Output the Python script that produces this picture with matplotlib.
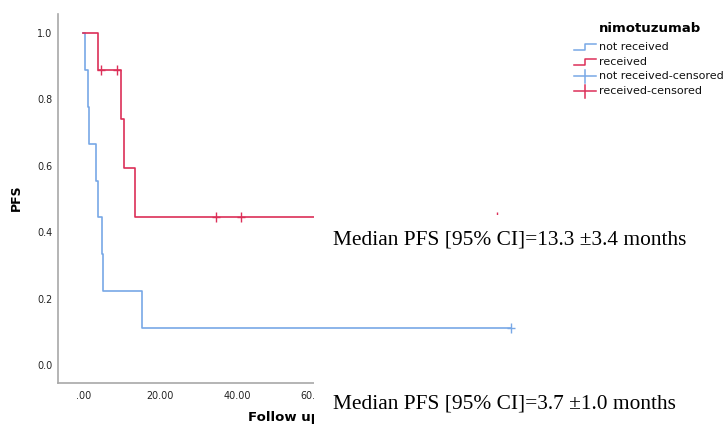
import numpy as np
import matplotlib
matplotlib.use("Agg")
from matplotlib import pyplot
from matplotlib.lines import Line2D
from matplotlib.patches import Rectangle

# Kaplan-Meier input: follow up times (months) and event flag (1 = progression, 0 = censored)
not_received_time = [0.3, 1.1, 1.4, 3.2, 3.7, 4.9, 5.1, 15.2, 111.1]
not_received_event = [1, 1, 1, 1, 1, 1, 1, 1, 0]
received_time = [3.7, 4.5, 8.6, 9.7, 10.6, 13.3, 34.5, 41.0, 107.5]
received_event = [1, 0, 0, 1, 1, 1, 0, 0, 0]

legend_labels = ["not received", "received", "not received-censored", "received-censored"]
x_ticks = [0, 20, 40, 60]
x_tick_labels = [".00", "20.00", "40.00", "60.00"]
y_ticks = [0.0, 0.2, 0.4, 0.6, 0.8, 1.0]
median_texts = ["Median PFS [95% CI]=13.3 \u00b13.4 months",
                "Median PFS [95% CI]=3.7 \u00b11.0 months"]

blue = "#78a8e6"
red = "#dc2f58"


def km_curve(times, events):
    times = np.array(times, dtype=float)
    events = np.array(events)
    order = np.argsort(times, kind="stable")
    times, events = times[order], events[order]
    xs, ys = [0.0], [1.0]
    surv = 1.0
    cens_x, cens_y = [], []
    at_risk = len(times)
    for t, e in zip(times, events):
        if e:
            surv = surv * (at_risk - 1) / at_risk
            xs.append(t)
            ys.append(surv)
        else:
            cens_x.append(t)
            cens_y.append(surv)
        at_risk -= 1
    xs.append(max(times))
    ys.append(surv)
    return xs, ys, cens_x, cens_y


W, H = 727, 425
fig = pyplot.figure(figsize=(W / 100, H / 100), dpi=100)

# axes box in pixels: left 58, bottom spine at 383, top at 14
x_min, x_max = -6.6, 124.0
ax = fig.add_axes([58 / W, (H - 383) / H, (83.3 + x_max * 3.85 - 58) / W, (383 - 14) / H])

for times, events, color in [(not_received_time, not_received_event, blue),
                             (received_time, received_event, red)]:
    xs, ys, cx, cy = km_curve(times, events)
    ax.step(xs, ys, where="post", color=color, lw=1.2)
    ax.plot(cx, cy, linestyle="none", marker="|", markersize=7, mew=1.0, color=color)
    ax.plot(cx, cy, linestyle="none", marker="_", markersize=6, mew=1.0, color=color)

ax.set_xlim(x_min, x_max)
ax.set_ylim(-0.054, 1.057)
ax.set_xticks(x_ticks)
ax.set_xticklabels(x_tick_labels)
ax.set_yticks(y_ticks)
ax.set_yticklabels([f"{v:.1f}" for v in y_ticks])
ax.tick_params(length=0, labelsize=6.9, pad=6, colors="#222222")
ax.tick_params(axis="y", pad=4)
for side in ["top", "right"]:
    ax.spines[side].set_visible(False)
for side in ["left", "bottom"]:
    ax.spines[side].set_color("#a8a8a8")
    ax.spines[side].set_linewidth(1.2)

fig.text(16 / W, 1 - 198 / H, "PFS", rotation=90, fontsize=9, fontweight="bold",
         ha="center", va="center")
fig.text(248 / W, 1 - 418 / H, "Follow up time (months)", fontsize=9.5, fontweight="bold",
         ha="left", va="center")

# legend drawn beside the plot
fig.text(599 / W, 1 - 28 / H, "nimotuzumab", fontsize=9.5, fontweight="bold",
         ha="left", va="center")
rows_y = [47, 62, 76, 91]
colors = [blue, red, blue, red]
for i, (lab, yy, c) in enumerate(zip(legend_labels, rows_y, colors)):
    if i < 2:
        fig.add_artist(Line2D(np.array([574, 585, 585, 596]) / W,
                              1 - np.array([yy + 3, yy + 3, yy - 3, yy - 3]) / H,
                              color=c, lw=1.1))
    else:
        fig.add_artist(Line2D(np.array([574, 596]) / W, [1 - yy / H] * 2, color=c, lw=1.1))
        fig.add_artist(Line2D([585 / W] * 2, 1 - np.array([yy - 6.5, yy + 6.5]) / H,
                              color=c, lw=1.1))
    fig.text(599 / W, 1 - yy / H, lab, fontsize=8, ha="left", va="center", color="#111111")

# text boxes pasted over the right part of the plot
for (y0, y1) in [(215, 262), (378, 425)]:
    fig.add_artist(Rectangle((313.5 / W, 1 - y1 / H), (W - 313.5) / W, (y1 - y0) / H,
                             transform=fig.transFigure, facecolor="white",
                             edgecolor="none", zorder=5))
fig.text(333 / W, 1 - 240 / H, median_texts[0], fontsize=15.4, family="Liberation Serif",
         ha="left", va="center", zorder=6)
fig.text(333 / W, 1 - 404 / H, median_texts[1], fontsize=15.4, family="Liberation Serif",
         ha="left", va="center", zorder=6)

fig.savefig("out.png", dpi=100)
pyplot.close(fig)
